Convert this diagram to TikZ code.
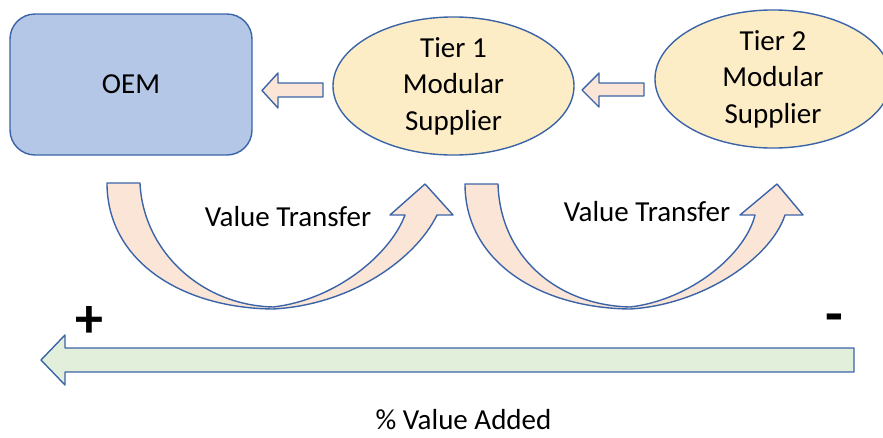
\documentclass[tikz,border=0pt]{standalone}
\usepackage{fontspec}
\setmainfont{Carlito}
\usetikzlibrary{shapes.geometric}
\definecolor{edge}{HTML}{3B64A8}
\definecolor{oemfill}{HTML}{B4C7E7}
\definecolor{tierfill}{HTML}{FDEDC6}
\definecolor{peach}{HTML}{FBE5D6}
\definecolor{mint}{HTML}{E2EFDA}
\tikzset{
  outline/.style={draw=edge, line width=1.4pt, line join=round},
  oembox/.style={outline, fill=oemfill, rounded corners=25pt, minimum width=242pt, minimum height=141pt},
  tier/.style={outline, fill=tierfill, ellipse, inner sep=0pt, align=center, font=\fontsize{29}{36.5}\selectfont},
  blockarrow/.style={outline, fill=peach},
  label/.style={font=\fontsize{29}{34}\selectfont, inner sep=0pt},
  sign/.style={inner sep=0pt, font=\fontsize{56}{56}\selectfont\bfseries},
}
\begin{document}
\begin{tikzpicture}[x=1pt, y=-1pt]
\useasboundingbox (0,0) rectangle (883,437);

% actors in the supply chain
\node[oembox, font=\fontsize{29}{34}\selectfont] (oem) at (131,84.5) {OEM};
\node[tier, minimum width=241pt, minimum height=128pt] (t1) at (453.5,86) {Tier 1\\Modular\\Supplier};
\node[tier, minimum width=236pt, minimum height=126pt] (t2) at (773,79) {Tier 2\\Modular\\Supplier};

% straight block arrows between the actors
\draw[blockarrow] (262,90.5) -- (278,73) -- (278,83) -- (323,83) -- (323,97)
  -- (278,97) -- (278,108) -- cycle;
\draw[blockarrow] (582,90) -- (599,73) -- (599,83) -- (644,83) -- (644,96)
  -- (599,96) -- (599,107) -- cycle;

% curved value-transfer arrows
\draw[blockarrow] (107,183) -- (140,183)
  .. controls (143,250) and (200,305) .. (273,307)
  .. controls (335,300) and (390,255) .. (405,215)
  -- (390,215) -- (425,184) -- (453,215) -- (437,215)
  .. controls (415,260) and (350,305) .. (273,309)
  .. controls (180,308) and (107,260) .. (107,183) -- cycle;
\draw[blockarrow] (465,184) -- (498,184)
  .. controls (500,255) and (555,305) .. (630,307)
  .. controls (690,300) and (745,255) .. (755,215)
  -- (740,215) -- (777,184) -- (803,215) -- (785,215)
  .. controls (770,260) and (700,305) .. (630,309)
  .. controls (540,308) and (465,262) .. (465,184) -- cycle;
\node[label] (vt1) at (288,217) {Value Transfer};
\node[label] (vt2) at (647,212) {Value Transfer};

% value-added scale
\draw[outline, fill=mint] (41,360) -- (65,335) -- (65,348) -- (854,348) -- (854,372)
  -- (65,372) -- (65,385) -- cycle;
\node[sign] (plus) at (89,322) {+};
\node[sign, font=\fontsize{58}{58}\selectfont\bfseries] (minus) at (834,324) {-};
\node[label, anchor=base] (va) at (463.5,429.5) {\% Value Added};
\end{tikzpicture}
\end{document}
